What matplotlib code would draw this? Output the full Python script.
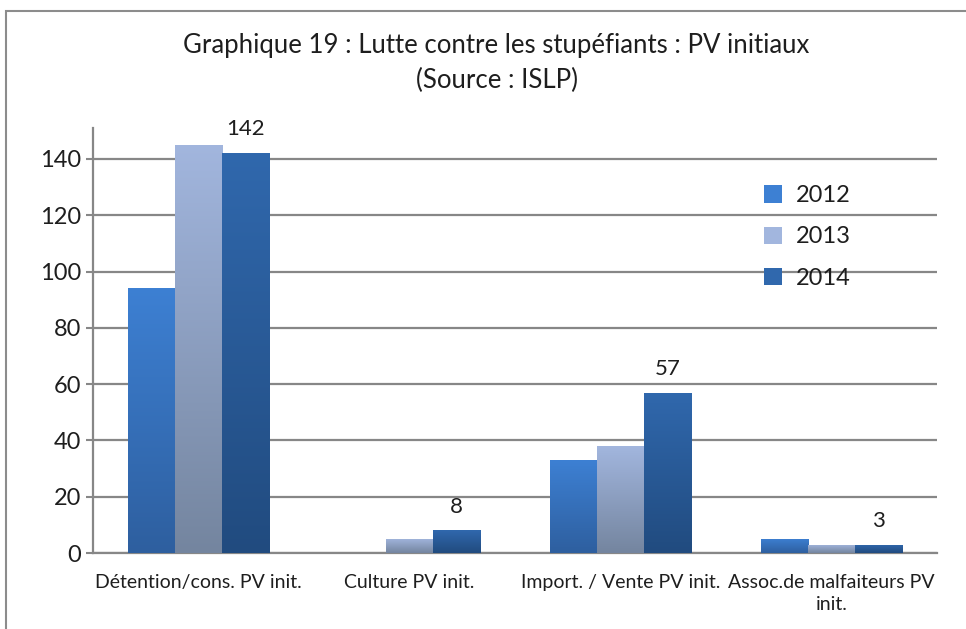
import numpy as np
import matplotlib
matplotlib.use("Agg")
import matplotlib.pyplot as plt
from matplotlib.colors import LinearSegmentedColormap
from matplotlib.patches import Rectangle

plt.rcParams['font.family'] = ['Lato', 'DejaVu Sans']

categories = ["Détention/cons. PV init.", "Culture PV init.",
              "Import. / Vente PV init.", "Assoc.de malfaiteurs PV\ninit."]
years = ["2012", "2013", "2014"]
v2012 = [94, 0, 33, 5]
v2013 = [145, 5, 38, 3]
v2014 = [142, 8, 57, 3]
yticks = [0, 20, 40, 60, 80, 100, 120, 140]

# gradient (top colour, bottom colour) per series
grads = [("#3d80d3", "#2e5f9f"), ("#a2b6de", "#74859f"), ("#3068ad", "#214b7f")]
txt = "#1e1e1e"

fig = plt.figure(figsize=(9.66, 6.29), dpi=100)
ax = fig.add_axes([0.0963, 0.1208, 0.8737, 0.6757])

x = np.arange(len(categories))
w = 0.223
series = [v2012, v2013, v2014]
grad = np.linspace(0, 1, 256).reshape(-1, 1)
handles = []
for i, vals in enumerate(series):
    cmap = LinearSegmentedColormap.from_list("g%d" % i, [grads[i][1], grads[i][0]])
    bars = ax.bar(x + (i - 1) * w, vals, w, facecolor="none", edgecolor="none", zorder=3)
    for b in bars:
        if b.get_height() <= 0:
            continue
        x0, y0 = b.get_x(), b.get_y()
        im = ax.imshow(grad, cmap=cmap, origin="lower", aspect="auto",
                       extent=(x0, x0 + b.get_width(), y0, y0 + b.get_height()),
                       zorder=3)
        im.set_clip_path(b)
    handles.append(Rectangle((0, 0), 1, 1, facecolor=grads[i][0], edgecolor="none"))

for xi, v in zip(x, v2014):
    ax.annotate(str(v), (xi + w, v), xytext=(0, 10), textcoords="offset points",
                ha="center", va="bottom", fontsize=16, color=txt)

ax.set_xlim(-0.5, len(categories) - 0.5)
ax.set_ylim(0, 151)
ax.set_yticks(yticks)
ax.set_xticks(x)
ax.set_xticklabels(categories, fontsize=14, color=txt, linespacing=1.4)
ax.tick_params(axis="y", labelsize=17, colors=txt, length=5, width=1.5, color="#878787")
ax.tick_params(axis="x", length=0, pad=15)
ax.grid(axis="y", color="#878787", linewidth=1.6, zorder=1)
ax.set_axisbelow(True)
for s in ["top", "right"]:
    ax.spines[s].set_visible(False)
for s in ["left", "bottom"]:
    ax.spines[s].set_color("#878787")
    ax.spines[s].set_linewidth(1.6)

leg = ax.legend(handles, years, loc="upper left", bbox_to_anchor=(0.77, 0.915),
                frameon=False, handlelength=0.75, handleheight=0.75,
                labelspacing=0.85, handletextpad=0.6, prop={"size": 17})
for t in leg.get_texts():
    t.set_color(txt)

fig.suptitle("Graphique 19 : Lutte contre les stupéfiants : PV initiaux\n(Source : ISLP)",
             x=0.514, y=0.948, fontsize=18.5, color=txt, linespacing=1.5)

fig.patches.append(Rectangle((0.006, -0.1), 1.1, 1.082, transform=fig.transFigure,
                             fill=False, edgecolor="#8c8c8c", linewidth=1.5))

fig.savefig("out.png", dpi=100)
